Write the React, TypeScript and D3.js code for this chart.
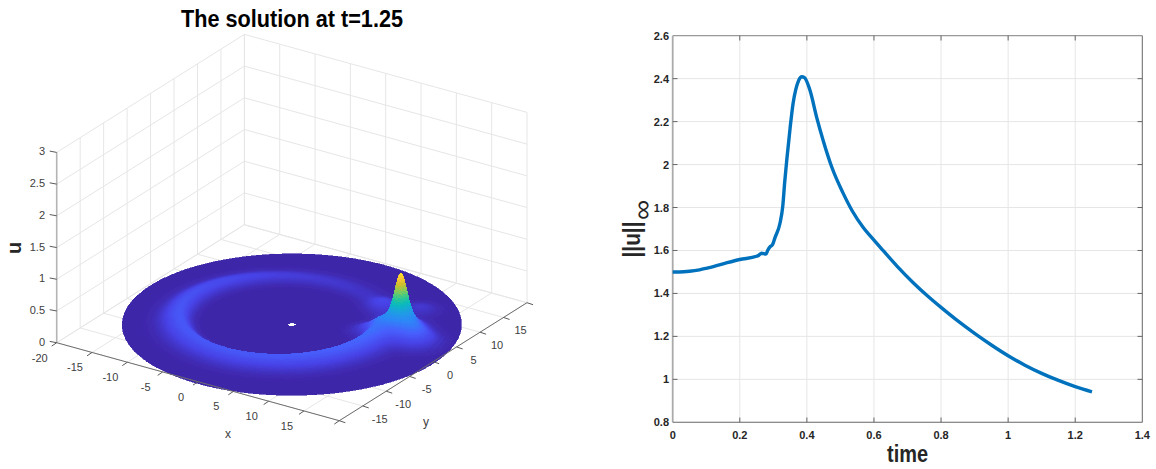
import React from 'react';
import * as d3 from 'd3';

// ---------- right panel: sup norm of u against time ----------
const timeValues = [0, 0.02, 0.05, 0.08, 0.1, 0.15, 0.2, 0.25, 0.255, 0.265, 0.278, 0.283, 0.29, 0.298, 0.305, 0.32, 0.328, 0.334, 0.34, 0.35, 0.359, 0.367, 0.375, 0.385, 0.393, 0.409, 0.43, 0.449, 0.475, 0.508, 0.535, 0.567, 0.6, 0.627, 0.67, 0.717, 0.76, 0.8, 0.85, 0.9, 0.95, 1.0, 1.05, 1.1, 1.15, 1.2, 1.25];
const normValues = [1.5, 1.5, 1.503, 1.51, 1.517, 1.538, 1.558, 1.573, 1.576, 1.587, 1.583, 1.6, 1.617, 1.628, 1.66, 1.728, 1.804, 1.92, 2.02, 2.17, 2.286, 2.35, 2.39, 2.409, 2.405, 2.347, 2.215, 2.11, 1.985, 1.867, 1.785, 1.709, 1.648, 1.6, 1.525, 1.45, 1.388, 1.335, 1.272, 1.214, 1.16, 1.11, 1.066, 1.028, 0.995, 0.966, 0.942];
const timeTicks = [0, 0.2, 0.4, 0.6, 0.8, 1, 1.2, 1.4];
const normTicks = [0.8, 1, 1.2, 1.4, 1.6, 1.8, 2, 2.2, 2.4, 2.6];

// ---------- left panel: surface u(x, y) at t = 1.25 ----------
const xyTicks = [-20, -15, -10, -5, 0, 5, 10, 15, 20];
const xLabelTicks = [-20, -15, -10, -5, 0, 5, 10, 15];
const yLabelTicks = [-15, -10, -5, 0, 5, 10, 15];
const uTicks = [0, 0.5, 1, 1.5, 2, 2.5, 3];
const ringCentre = [-1.2, -0.3];
const ringRadius = 12;
const ringAngles = [-180, -146, -100, -56, -20, 5, 18, 35, 50, 80, 124, 150, 180];
const ringHeights = [0.14, 0.16, 0.16, 0.17, 0.19, 0.22, 0.14, 0.04, 0.03, 0.05, 0.08, 0.11, 0.14];
// x, y, height, width of the humps read around the main peak
const humpX = [11.8, 11.8, 8.6, 6.4, 9.4, 14.8, 10.5];
const humpY = [5.5, 5.5, 3.3, 10, 5.2, 3.8, 11.7];
const humpH = [0.55, 0.3, 0.09, 0.08, -0.2, 0.2, 0.06];
const humpW = [0.65, 1.7, 1.3, 1.4, 0.7, 1.7, 1.3];
const uMax = 0.94;
const parulaStops = ['#3e26a8', '#4742e6', '#4760fd', '#2d87f7', '#1ea0e1', '#08b9be', '#32c891', '#82cb5a', '#cdbe2d', '#fec337', '#f9fb15'];

const ringH = d3.scaleLinear(ringAngles, ringHeights);
const parula = d3.scaleLinear<string>(d3.range(parulaStops.length).map(i => i / (parulaStops.length - 1)), parulaStops).clamp(true);

function surfaceU(x: number, y: number) {
  const dx = x - ringCentre[0], dy = y - ringCentre[1];
  const d = Math.hypot(dx, dy) - ringRadius;
  const a = (Math.atan2(dy, dx) * 180) / Math.PI;
  const s = d < 0 ? 0.9 : 1.6;
  let u = ringH(a) * Math.exp(-(d * d) / (2 * s * s));
  humpX.forEach((hx, i) => {
    const r2 = (x - hx) ** 2 + (y - humpY[i]) ** 2;
    u += humpH[i] * Math.exp(-r2 / (2 * humpW[i] ** 2));
  });
  return Math.max(0, u);
}

const pxOfX = d3.scaleLinear([-20, 20], [0, 282.6]);
const pyOfX = d3.scaleLinear([-20, 20], [0, 78]);
const pxOfY = d3.scaleLinear([-20, 20], [0, 187.7]);
const pyOfY = d3.scaleLinear([-20, 20], [0, -118]);
const pyOfU = d3.scaleLinear([0, 3], [0, -190.3]);
const project = (x: number, y: number, u = 0): [number, number] => [
  56.7 + pxOfX(x) + pxOfY(y),
  342.7 + pyOfX(x) + pyOfY(y) + pyOfU(u),
];

function buildSurface() {
  const rs = [...d3.range(0.5, 8, 0.5), ...d3.range(8, 18, 0.12), ...d3.range(18, 20, 0.5), 20];
  const ts = [...d3.range(-180, 0, 1.5), ...d3.range(0, 50, 0.5), ...d3.range(50, 180, 1.5), 180];
  const quads: { d: string; key: number; c: string }[] = [];
  const line = d3.line();
  for (let i = 0; i < rs.length - 1; i++) {
    for (let j = 0; j < ts.length - 1; j++) {
      const corners = [[rs[i], ts[j]], [rs[i + 1], ts[j]], [rs[i + 1], ts[j + 1]], [rs[i], ts[j + 1]]].map(([r, t]) => {
        const x = r * Math.cos((t * Math.PI) / 180), y = r * Math.sin((t * Math.PI) / 180);
        return { x, y, u: surfaceU(x, y) };
      });
      const pts = corners.map(c => project(c.x, c.y, c.u - 0.03));
      const mx = d3.mean(corners, c => c.x)!, my = d3.mean(corners, c => c.y)!, mu = d3.mean(corners, c => c.u)!;
      quads.push({ d: line(pts)! + 'Z', key: 78 * mx - 118 * my, c: parula(mu / uMax) });
    }
  }
  quads.sort((a, b) => a.key - b.key);
  return quads;
}

const sans = "'Liberation Sans', Arial, sans-serif";
const gridC = '#e6e6e6';

function Seg({ a, b, c = gridC, w = 1 }: { a: [number, number]; b: [number, number]; c?: string; w?: number }) {
  return <line x1={a[0]} y1={a[1]} x2={b[0]} y2={b[1]} stroke={c} strokeWidth={w} />;
}

function Left() {
  const quads = React.useMemo(buildSurface, []);
  const tickC = '#5a5a5a';
  const labelC = '#404040';
  return (
    <g fontFamily={sans}>
      <defs>
        <filter id="soft" x="-5%" y="-5%" width="110%" height="110%">
          <feGaussianBlur stdDeviation="0.5" />
        </filter>
      </defs>
      {xyTicks.map(t => (
        <g key={t}>
          <Seg a={project(t, -20)} b={project(t, 20)} />
          <Seg a={project(-20, t)} b={project(20, t)} />
          <Seg a={project(-20, t)} b={project(-20, t, 3)} />
          <Seg a={project(t, 20)} b={project(t, 20, 3)} />
        </g>
      ))}
      {uTicks.map(t => (
        <g key={t}>
          <Seg a={project(-20, -20, t)} b={project(-20, 20, t)} />
          <Seg a={project(-20, 20, t)} b={project(20, 20, t)} />
        </g>
      ))}
      <g filter="url(#soft)" shapeRendering="crispEdges">
        {quads.map((q, i) => (
          <path key={i} d={q.d} fill={q.c} stroke={q.c} strokeWidth={0.6} />
        ))}
      </g>
      <Seg a={project(-20, -20)} b={project(-20, -20, 3)} c="#b4b4b4" w={1.6} />
      <Seg a={project(-20, -20)} b={project(20, -20)} c="#6e6e6e" />
      <Seg a={project(20, -20)} b={project(20, 20)} c="#6e6e6e" />
      {xyTicks.map(t => {
        const [ax, ay] = project(t, -20);
        const [bx, by] = project(20, t);
        return (
          <g key={t}>
            <line x1={ax} y1={ay} x2={ax - 5} y2={ay + 3.4} stroke={tickC} />
            <line x1={bx} y1={by} x2={bx + 6} y2={by + 2} stroke={tickC} />
          </g>
        );
      })}
      {uTicks.map(t => {
        const [ax, ay] = project(-20, -20, t);
        return <line key={t} x1={ax} y1={ay} x2={ax - 7} y2={ay - 1.3} stroke={tickC} />;
      })}
      <g fontSize={11} fill={labelC}>
        {xLabelTicks.map(t => {
          const [ax, ay] = project(t, -20);
          return <text key={t} x={ax - 17} y={ay + 19} textAnchor="middle">{t}</text>;
        })}
        {yLabelTicks.map(t => {
          const [bx, by] = project(20, t);
          return <text key={t} x={bx + 17} y={by + 17} textAnchor="middle">{t}</text>;
        })}
        {uTicks.map(t => {
          const [ax, ay] = project(-20, -20, t);
          return <text key={t} x={45} y={ay + 3} textAnchor="end">{t}</text>;
        })}
        <text x={228} y={438} textAnchor="middle" fontSize={12}>x</text>
        <text x={426} y={426} textAnchor="middle" fontSize={12}>y</text>
      </g>
      <text transform="translate(21,248) rotate(-90)" textAnchor="middle" fontSize={20} fontWeight="bold" fill="#262626">u</text>
      <text x={181} y={27.3} fontSize={24} fontWeight="bold" textLength={222} lengthAdjust="spacingAndGlyphs" fill="#000">The solution at t=1.25</text>
    </g>
  );
}

function Right() {
  const X = d3.scaleLinear([0, 1.4], [672.7, 1142.3]);
  const Y = d3.scaleLinear([0.8, 2.6], [422.3, 35.7]);
  const path = d3.line<number>((_, i) => X(timeValues[i]), (v) => Y(v)).curve(d3.curveMonotoneX)(normValues)!;
  const axisC = '#666';
  return (
    <g fontFamily={sans}>
      {timeTicks.slice(1, -1).map(t => <line key={t} x1={X(t)} x2={X(t)} y1={35.7} y2={422.3} stroke={gridC} />)}
      {normTicks.slice(1, -1).map(t => <line key={t} x1={672.7} x2={1142.3} y1={Y(t)} y2={Y(t)} stroke={gridC} />)}
      <line x1={672.7} x2={1142.3} y1={35.7} y2={35.7} stroke="#999" strokeWidth={1.2} />
      <line x1={1142.3} x2={1142.3} y1={35.7} y2={422.3} stroke={axisC} />
      <line x1={672.7} x2={672.7} y1={35.7} y2={422.3} stroke="#aaa" strokeWidth={1.8} />
      <line x1={672.7} x2={1142.3} y1={422.3} y2={422.3} stroke={axisC} strokeWidth={1.1} />
      {timeTicks.slice(1, -1).map(t => (
        <g key={t} stroke={axisC}>
          <line x1={X(t)} x2={X(t)} y1={422.3} y2={417.5} />
          <line x1={X(t)} x2={X(t)} y1={35.7} y2={40.5} />
        </g>
      ))}
      {normTicks.slice(1, -1).map(t => (
        <g key={t} stroke={axisC}>
          <line x1={672.7} x2={677.5} y1={Y(t)} y2={Y(t)} />
          <line x1={1142.3} x2={1137.5} y1={Y(t)} y2={Y(t)} />
        </g>
      ))}
      <path d={path} fill="none" stroke="#0072BD" strokeWidth={3.4} strokeLinejoin="round" />
      <g fontSize={11} fontWeight="bold" fill="#262626">
        {timeTicks.map(t => <text key={t} x={X(t)} y={439} textAnchor="middle">{t}</text>)}
        {normTicks.map(t => <text key={t} x={669} y={Y(t) + 4} textAnchor="end">{t}</text>)}
      </g>
      <text x={887} y={462} fontSize={23} fontWeight="bold" textLength={41} lengthAdjust="spacingAndGlyphs" fill="#262626">time</text>
      <text transform="translate(640,257.5) rotate(-90)" fontSize={24} fontWeight="bold" textLength={36} lengthAdjust="spacingAndGlyphs" fill="#262626">||u||</text>
      <text transform="translate(651,220) rotate(-90)" fontSize={26} textLength={20} lengthAdjust="spacingAndGlyphs" fill="#262626">∞</text>
    </g>
  );
}

export default function App() {
  return (
    <svg width={1156} height={469} viewBox="0 0 1156 469" style={{ position: 'absolute', left: 0, top: 0, background: '#fff' }}>
      <Left />
      <Right />
    </svg>
  );
}
